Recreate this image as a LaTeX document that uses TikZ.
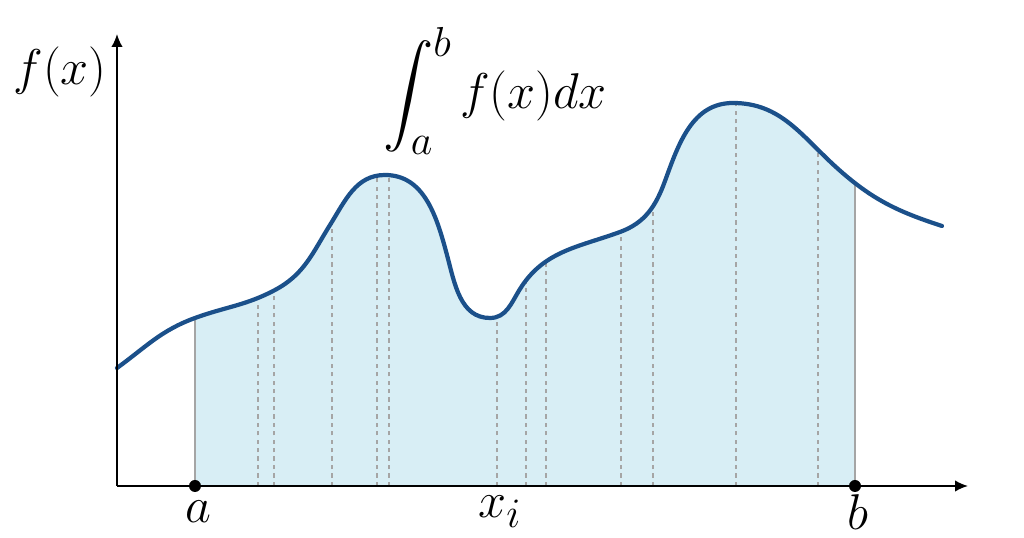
\documentclass[tikz,border=0pt]{standalone}
\usepackage{graphicx}
\usepackage{amsmath}
\usetikzlibrary{arrows.meta}
\definecolor{curveblue}{RGB}{27,80,138}
\definecolor{areablue}{RGB}{216,238,245}
\definecolor{stripgray}{RGB}{165,165,165}
\tikzset{
  curve/.style={curveblue, line width=2.4pt, line cap=round, line join=round},
  axis/.style={-{Latex[length=2.6mm,width=2.3mm]}, line width=1.1pt},
  strip/.style={stripgray, line width=0.9pt, dash pattern=on 2.4pt off 2.4pt},
  bound/.style={stripgray, line width=0.9pt},
  lbl/.style={font=\Huge, inner sep=0pt}
}
\newcommand{\bigtext}[1]{\scalebox{1.15}{#1}}
\begin{document}
\begin{tikzpicture}[x=0.2mm, y=0.2mm, line join=round]
	\def\xa{78} \def\xb{738} \def\xend{825}
	\def\curve{(0,118) to[out=36,in=200] (78,168) to[out=20,in=208] (158,196)
		to[out=28,in=238] (213,261) to[out=58,in=180] (268,311)
		to[out=0,in=105] (330,231) to[out=-75,in=180] (373,168)
		to[out=0,in=238] (403,197) to[out=58,in=200] (503,254)
		to[out=20,in=250] (548,305) to[out=70,in=180] (616,383)
		to[out=0,in=138] (720,318) to[out=-42,in=162] (825,260)}
	\useasboundingbox (-117,-52) rectangle (907,486);
	\coordinate (O) at (0,0);
	\coordinate (X) at (851,0);
	\coordinate (Y) at (0,452);
	% area between a and b
	\begin{scope}
		\clip (\xa,0) rectangle (\xb,480);
		\fill[areablue] \curve -- (\xend,0) -- (0,0) -- cycle;
	\end{scope}
	% strips
	\begin{scope}
		\clip \curve -- (\xend,0) -- (0,0) -- cycle;
		\foreach \xs in {141,157,215,260,272,380,409,429,504,536,619,701}
			\draw[strip] (\xs,0) -- (\xs,480);
		\draw[bound] (\xa,0) -- (\xa,480);
		\draw[bound] (\xb,0) -- (\xb,480);
	\end{scope}
	\draw[curve] \curve;
	\draw[axis] (O) -- (X);
	\draw[axis] (O) -- (Y);
	\fill (\xa,0) circle (1.2mm);
	\fill (\xb,0) circle (1.2mm);
	\node[lbl] (a) at (\xa+3,-26) {\bigtext{$a$}};
	\node[lbl] (xi) at (383,-26) {\bigtext{$x_i$}};
	\node[lbl] (b) at (\xb+3,-26) {\bigtext{$b$}};
	\node[lbl] (fx) at (-57,414) {\bigtext{$f(x)$}};
	\node[lbl] (int) at (378,395) {\bigtext{$\displaystyle\int_a^b f(x)dx$}};
\end{tikzpicture}
\end{document}
